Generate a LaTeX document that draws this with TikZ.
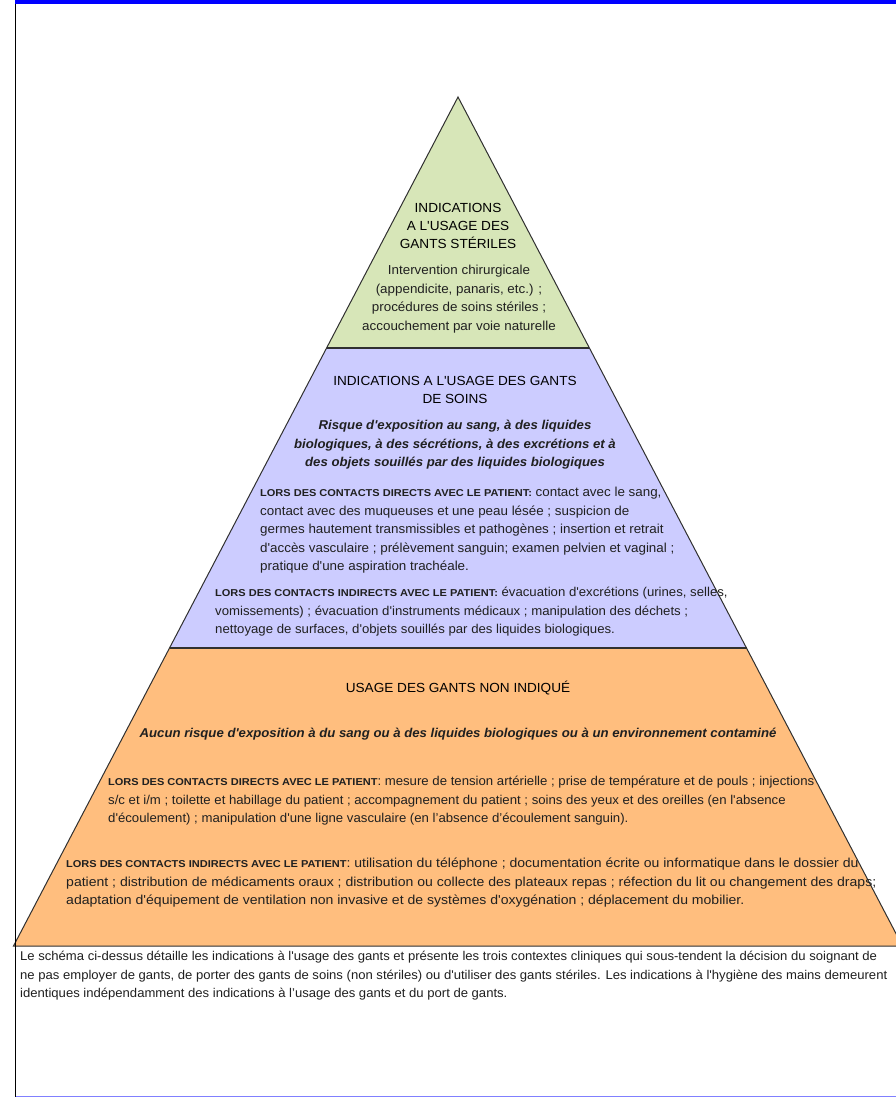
\documentclass[tikz,border=0pt]{standalone}
\usepackage{fontspec}
\setmainfont{Liberation Sans}[Ligatures=TeXOff, FakeStretch=1.03]
\newfontfamily\widefont{Liberation Sans}[Ligatures=TeXOff, FakeStretch=1.08]
\newfontfamily\lblfont{Liberation Sans}[Ligatures=TeXOff, FakeStretch=1.1]
\definecolor{greenL}{HTML}{D7E6B8}
\definecolor{purpleL}{HTML}{CCCCFF}
\definecolor{orangeL}{HTML}{FFBE7E}
\definecolor{edgeC}{HTML}{303030}
\definecolor{txtC}{HTML}{202020}
\newcommand\lbl[1]{{\lblfont\fontsize{10}{18.5}\selectfont\bfseries #1}}
\begin{document}
\begin{tikzpicture}[x=1pt,y=-1pt,
  body/.style={anchor=north west, inner sep=0pt, align=left, text=txtC, font=\fontsize{13}{18.5}\selectfont},
  cbody/.style={anchor=north, inner sep=0pt, align=center, text=txtC, font=\fontsize{13}{18.5}\selectfont},
  ctitle/.style={anchor=north, inner sep=0pt, align=center, text=black, font=\fontsize{13.2}{18}\selectfont},
  cital/.style={anchor=north, inner sep=0pt, align=center, text=txtC, font=\fontsize{12.8}{18.5}\selectfont\bfseries\itshape},
  layer/.style={draw=edgeC, line width=1pt, line join=miter},
  sep/.style={draw=edgeC, line width=2pt}
]
\useasboundingbox (0,0) rectangle (896,1097);
\fill[white] (0,0) rectangle (896,1097);
\begin{scope}
\clip (0,0) rectangle (896,1097);
\coordinate (A) at (458,97);
\coordinate (L1) at (326.6,348);
\coordinate (R1) at (589.4,348);
\coordinate (L2) at (169.5,648);
\coordinate (R2) at (746.5,648);
\coordinate (L3) at (13.5,946);
\coordinate (R3) at (902.5,946);
\fill[greenL] (A) -- (R1) -- (L1) -- cycle;
\fill[purpleL] (L1) -- (R1) -- (R2) -- (L2) -- cycle;
\fill[orangeL] (L2) -- (R2) -- (R3) -- (L3) -- cycle;
\draw[layer] (L3) -- (A) -- (R3) -- cycle;
\draw[sep] (L1) -- (R1);
\draw[sep] (L2) -- (R2);
\end{scope}
\fill[blue] (15,0) rectangle (896,4);
\draw[black, line width=1pt] (15.5,4) -- (15.5,1096.5);
\draw[blue!50, line width=1pt] (15.5,1096.5) -- (896,1096.5);
% green
\node[ctitle] (gT) at (458,199.6) {\strut INDICATIONS\\A L'USAGE DES\\GANTS STÉRILES};
\node[cbody] (gB) at (459,261.7) {\strut Intervention chirurgicale\\(appendicite, panaris, etc.) ;\\procédures de soins stériles ;\\accouchement par voie naturelle};
% purple
\node[ctitle] (pT) at (455,372.6) {\strut INDICATIONS A L'USAGE DES GANTS\\DE SOINS};
\node[cital] (pI) at (455,416.7) {\strut Risque d'exposition au sang, à des liquides\\biologiques, à des sécrétions, à des excrétions et à\\des objets souillés par des liquides biologiques};
\node[body] (pD) at (260,483.7) {\strut\lbl{LORS DES CONTACTS DIRECTS AVEC LE PATIENT:} contact avec le sang,\\contact avec des muqueuses et une peau lésée ; suspicion de\\germes hautement transmissibles et pathogènes ; insertion et retrait\\d'accès vasculaire ; prélèvement sanguin; examen pelvien et vaginal ;\\pratique d'une aspiration trachéale.};
\node[body, font=\fontsize{12.8}{18.5}\selectfont] (pN) at (215,583.7) {\strut\lbl{LORS DES CONTACTS INDIRECTS AVEC LE PATIENT:} évacuation d'excrétions (urines, selles,\\vomissements) ; évacuation d'instruments médicaux ; manipulation des déchets ;\\nettoyage de surfaces, d'objets souillés par des liquides biologiques.};
% orange
\node[ctitle] (oT) at (458,679.6) {\strut USAGE DES GANTS NON INDIQUÉ};
\node[cital] (oI) at (458,724.7) {\strut Aucun risque d'exposition à du sang ou à des liquides biologiques ou à un environnement contaminé};
\node[body, font=\fontsize{12.8}{18.5}\selectfont] (oD) at (108,772.7) {\strut\lbl{LORS DES CONTACTS DIRECTS AVEC LE PATIENT}: mesure de tension artérielle ; prise de température et de pouls ; injections\\s/c et i/m ; toilette et habillage du patient ; accompagnement du patient ; soins des yeux et des oreilles (en l'absence\\d'écoulement) ; manipulation d'une ligne vasculaire (en l’absence d’écoulement sanguin).};
\node[body, font=\widefont\fontsize{13}{18.5}\selectfont] (oN) at (66,854.7) {\strut\lbl{LORS DES CONTACTS INDIRECTS AVEC LE PATIENT}: utilisation du téléphone ; documentation écrite ou informatique dans le dossier du\\patient ; distribution de médicaments oraux ; distribution ou collecte des plateaux repas ; réfection du lit ou changement des draps;\\adaptation d'équipement de ventilation non invasive et de systèmes d'oxygénation ; déplacement du mobilier.};
% caption
\node[body, font=\fontsize{12.7}{18.5}\selectfont] (cap) at (20,947.7) {\strut Le schéma ci-dessus détaille les indications à l'usage des gants et présente les trois contextes cliniques qui sous-tendent la décision du soignant de\\ne pas employer de gants, de porter des gants de soins (non stériles) ou d'utiliser des gants stériles. Les indications à l'hygiène des mains demeurent\\identiques indépendamment des indications à l’usage des gants et du port de gants.};
\end{tikzpicture}
\end{document}
